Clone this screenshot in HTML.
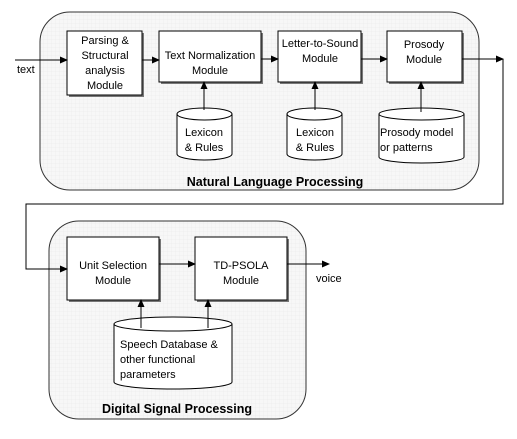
<!DOCTYPE html>
<html><head><style>
body{margin:0;background:#fff;}
svg{display:block;font-family:"Liberation Sans",sans-serif;}
</style></head><body>
<svg width="517" height="439" viewBox="0 0 517 439" xmlns="http://www.w3.org/2000/svg">
<defs>
<pattern id="g" width="4" height="4" patternUnits="userSpaceOnUse"><rect width="4" height="4" fill="#f7f7f7"/><path d="M4 0V4H0" fill="none" stroke="#e8e8e8" stroke-width="0.5"/></pattern>
<marker id="a" markerWidth="8" markerHeight="8" refX="7" refY="4" orient="auto" markerUnits="userSpaceOnUse"><path d="M0,0.5 L8,4 L0,7.5z" fill="#000"/></marker>
</defs>
<rect x="40" y="12" width="439" height="178" rx="30" fill="url(#g)" stroke="#333" stroke-width="1"/>
<rect x="49" y="221" width="257" height="198" rx="30" fill="url(#g)" stroke="#333" stroke-width="1"/>
<g fill="#777">
<rect x="69" y="33" width="75" height="64"/><rect x="161" y="33" width="102" height="51"/>
<rect x="280" y="33" width="83" height="51"/><rect x="389" y="33" width="75" height="51"/>
<rect x="69" y="239" width="92" height="63"/><rect x="197" y="239" width="92" height="63"/>
</g>
<g fill="#fff" stroke="#000" stroke-width="1">
<rect x="67" y="31" width="75" height="64"/><rect x="159" y="31" width="102" height="51"/>
<rect x="278" y="31" width="83" height="51"/><rect x="387" y="31" width="75" height="51"/>
<rect x="67" y="237" width="92" height="63"/><rect x="195" y="237" width="92" height="63"/>
<path d="M177,114 V154 A27.5,6 0 0 0 232,154 V114 A27.5,6 0 0 0 177,114 A27.5,6 0 0 0 232,114"/>
<path d="M287,114 V154 A27.5,6 0 0 0 342,154 V114 A27.5,6 0 0 0 287,114 A27.5,6 0 0 0 342,114"/>
<path d="M379,114 V157 A42.5,6 0 0 0 464,157 V114 A42.5,6 0 0 0 379,114 A42.5,6 0 0 0 464,114"/>
<path d="M114,324 V382 A59,7 0 0 0 232,382 V324 A59,7 0 0 0 114,324 A59,7 0 0 0 232,324"/>
</g>
<g stroke="#000" stroke-width="1" fill="none" marker-end="url(#a)">
<path d="M15,60 H67"/><path d="M142,60 H159"/><path d="M261,59 H278"/><path d="M361,59 H387"/>
<path d="M462,59 H503"/>
<path d="M503,59 V204 H26 V269 H67"/>
<path d="M159,264 H195"/><path d="M287,264 H329"/>
<path d="M204,110 V82"/><path d="M315,110 V82"/><path d="M421,112 V82"/>
<path d="M141,328 V300"/><path d="M208,328 V300"/>
</g>
<g font-size="11" fill="#000" text-anchor="middle">
<text x="105" y="44">Parsing &amp;</text><text x="105" y="59">Structural</text><text x="105" y="74">analysis</text><text x="105" y="89">Module</text>
<text x="210" y="59">Text Normalization</text><text x="210" y="74">Module</text>
<text x="320" y="47">Letter-to-Sound</text><text x="320" y="62">Module</text>
<text x="424" y="48">Prosody</text><text x="424" y="63">Module</text>
<text x="204" y="136">Lexicon</text><text x="204" y="151">&amp; Rules</text>
<text x="315" y="136">Lexicon</text><text x="315" y="151">&amp; Rules</text>
<text x="113" y="269">Unit Selection</text><text x="113" y="284">Module</text>
<text x="241" y="269">TD-PSOLA</text><text x="241" y="284">Module</text>
</g>
<g font-size="11" fill="#000">
<text x="17" y="73">text</text>
<text x="380" y="136">Prosody model</text><text x="380" y="151">or patterns</text>
<text x="120" y="348">Speech Database &amp;</text><text x="120" y="363">other functional</text><text x="120" y="378">parameters</text>
<text x="316" y="282">voice</text>
</g>
<g font-size="12.5" font-weight="bold" text-anchor="middle">
<text x="275" y="186">Natural Language Processing</text>
<text x="177" y="413">Digital Signal Processing</text>
</g>
</svg>
</body></html>
